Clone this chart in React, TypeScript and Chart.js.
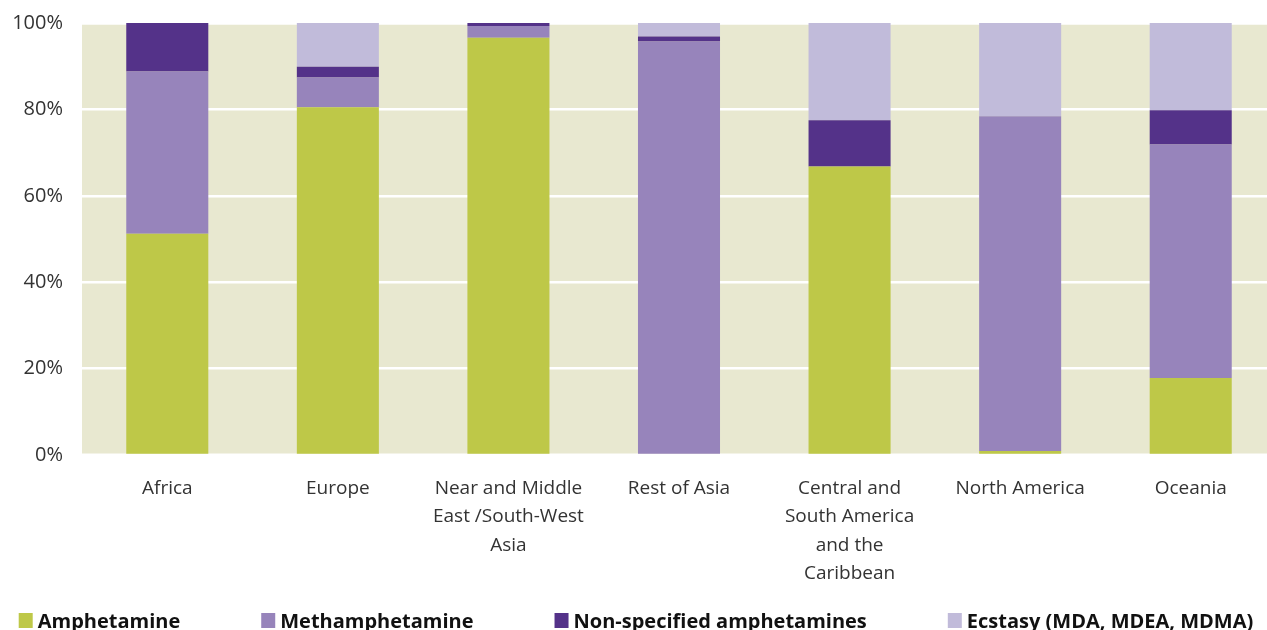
import React, { useEffect, useRef } from "react";
import { Chart, registerables } from "chart.js";

Chart.register(...registerables);

const regions: (string | string[])[] = [
  "Africa",
  "Europe",
  ["Near and Middle", "East /South-West", "Asia"],
  "Rest of Asia",
  ["Central and", "South America", "and the", "Caribbean"],
  "North America",
  "Oceania",
];

const amphetamine = [51.2, 80.5, 96.6, 0, 66.8, 0.9, 17.8];
const methamphetamine = [37.6, 6.9, 2.7, 95.7, 0, 77.5, 54.1];
const nonSpecified = [11.2, 2.5, 0.7, 1.2, 10.7, 0, 7.9];
const ecstasy = [0, 10.1, 0, 3.1, 22.5, 21.6, 20.2];

const yTicks = [0, 20, 40, 60, 80, 100];

const seriesLabels = [
  "Amphetamine",
  "Methamphetamine",
  "Non-specified amphetamines",
  "Ecstasy (MDA, MDEA, MDMA)",
];
const seriesColors = ["#bec848", "#9784bb", "#543289", "#c1bbda"];

const FONT = '"Open Sans", "Noto Sans", sans-serif';
const SHIFT = 8; // canvas is drawn 8px higher than the page top

const bgPlugin = {
  id: "plotBg",
  beforeDraw(chart: any) {
    const { ctx, chartArea } = chart;
    ctx.save();
    ctx.fillStyle = "#e8e8d0";
    ctx.fillRect(
      chartArea.left,
      chartArea.top + 1.5,
      chartArea.right - chartArea.left,
      chartArea.bottom - chartArea.top - 3
    );
    ctx.restore();
  },
};

const legendPlugin = {
  id: "bottomLegend",
  afterDraw(chart: any) {
    const ctx = chart.ctx;
    ctx.save();
    ctx.font = `bold 20px ${FONT}`;
    const boxW = 14;
    const boxH = 15;
    const textGap = 5;
    const gap = 81;
    const items = chart.data.datasets.map((d: any) => ({
      label: d.label as string,
      color: d.backgroundColor as string,
      w: ctx.measureText(d.label).width,
    }));
    const total =
      items.reduce((s: number, it: any) => s + boxW + textGap + it.w, 0) +
      gap * (items.length - 1);
    let x = 636 - total / 2;
    const boxTop = 613 + SHIFT;
    ctx.textBaseline = "alphabetic";
    ctx.textAlign = "left";
    for (const it of items) {
      ctx.fillStyle = it.color;
      ctx.fillRect(x, boxTop, boxW, boxH);
      x += boxW + textGap;
      ctx.fillStyle = "#111111";
      ctx.fillText(it.label, x, 628 + SHIFT);
      x += it.w + gap;
    }
    ctx.restore();
  },
};

export default function App() {
  const canvasRef = useRef<HTMLCanvasElement | null>(null);

  useEffect(() => {
    if (!canvasRef.current) return;
    const datasets = [amphetamine, methamphetamine, nonSpecified, ecstasy].map(
      (data, i) => ({
        label: seriesLabels[i],
        data,
        backgroundColor: seriesColors[i],
        borderWidth: 0,
        categoryPercentage: 1,
        barPercentage: 0.481,
      })
    );
    const chart = new Chart(canvasRef.current, {
      type: "bar",
      data: { labels: regions as any, datasets },
      options: {
        animation: false,
        responsive: false,
        devicePixelRatio: 1,
        layout: { padding: { top: 13.5, right: 0, bottom: 0, left: 0 } },
        plugins: {
          legend: { display: false },
          tooltip: { enabled: false },
        },
        scales: {
          x: {
            stacked: true,
            grid: { display: false, drawTicks: false },
            border: { display: false },
            ticks: {
              color: "#333333",
              font: { family: FONT, size: 19, lineHeight: 1.5 },
              padding: 19,
              maxRotation: 0,
              autoSkip: false,
            },
            afterFit(scale: any) {
              scale.height = 177;
            },
          },
          y: {
            stacked: true,
            min: 0,
            max: 100,
            grid: { color: "#ffffff", lineWidth: 2.5, drawTicks: false },
            border: { display: false },
            afterBuildTicks(scale: any) {
              scale.ticks = yTicks.map((v) => ({ value: v }));
            },
            ticks: {
              color: "#333333",
              font: { family: FONT, size: 20 },
              padding: 19,
              callback: (v: any) => `${v}%`,
            },
            afterFit(scale: any) {
              scale.width = 82;
            },
          },
        },
      },
      plugins: [bgPlugin, legendPlugin],
    });
    return () => chart.destroy();
  }, []);

  return (
    <div
      style={{
        position: "fixed",
        left: 0,
        top: 0,
        width: 1267,
        height: 630,
        overflow: "hidden",
        background: "#ffffff",
      }}
    >
      <canvas
        ref={canvasRef}
        width={1276}
        height={640}
        style={{ display: "block", position: "absolute", left: 0, top: -SHIFT }}
      />
    </div>
  );
}
